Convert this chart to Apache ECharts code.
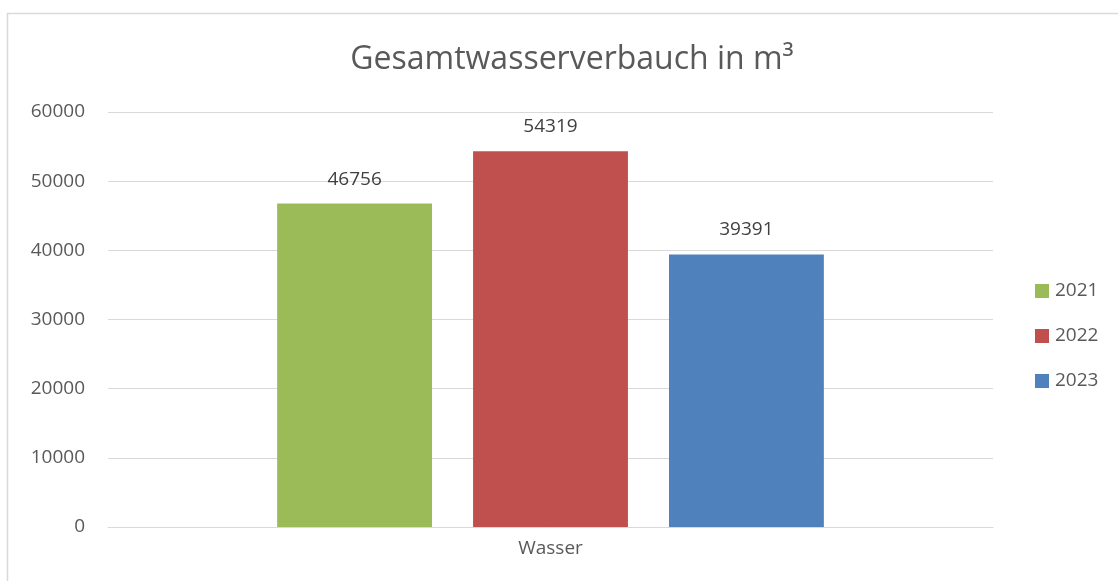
<!DOCTYPE html>
<html><head><meta charset="utf-8">
<script src="https://cdn.jsdelivr.net/npm/echarts@6/dist/echarts.min.js"></script>
<style>html,body{margin:0;padding:0;background:#fff}#c{width:1118px;height:581px}</style>
</head><body><div id="c"></div>
<script>
const categories = ['Wasser'];
const seriesNames = ['2021', '2022', '2023'];
const values2021 = [46756];
const values2022 = [54319];
const values2023 = [39391];
const colors = ['#9BBB59', '#C0504D', '#4F81BD'];
const allValues = [values2021, values2022, values2023];
const FONT = 'Open Sans';
const chart = echarts.init(document.getElementById('c'), null, {renderer: 'canvas'});
chart.setOption({
  animation: false,
  textStyle: {fontFamily: FONT},
  graphic: [{type: 'rect', shape: {x: 7.5, y: 13.5, width: 1200, height: 700}, style: {fill: 'none', stroke: '#d9d9d9', lineWidth: 1.5}, z: -1}],
  title: {text: 'Gesamtwasserverbauch in m³', left: 567, textAlign: 'center', top: 39,
    textStyle: {fontFamily: FONT, fontSize: 32, fontWeight: 'normal', color: '#595959'}},
  legend: {orient: 'vertical', left: 1035, top: 281, padding: 0, itemWidth: 14, itemHeight: 14, itemGap: 25,
    icon: 'rect', data: seriesNames,
    textStyle: {fontFamily: FONT, fontSize: 19, lineHeight: 20, color: '#595959', padding: [0,0,0,1]}},
  grid: {left: 108, right: 125, top: 112, bottom: 54},
  xAxis: {type: 'category', data: categories,
    axisLine: {lineStyle: {color: '#d9d9d9', width: 1}}, axisTick: {show: false},
    axisLabel: {fontFamily: FONT, fontSize: 19, color: '#595959', margin: 12}},
  yAxis: {type: 'value', min: 0, max: 60000, interval: 10000,
    axisLine: {show: false}, axisTick: {show: false},
    splitLine: {lineStyle: {color: '#d9d9d9', width: 1}},
    axisLabel: {fontFamily: FONT, fontSize: 19, color: '#595959', margin: 23, formatter: v => String(v)}},
  series: seriesNames.map((n, i) => ({
    name: n, type: 'bar', data: allValues[i], barWidth: '17.5%', barGap: '26.5%',
    itemStyle: {color: colors[i]},
    label: {show: true, position: 'top', distance: 15, fontFamily: FONT, fontSize: 19, color: '#404040'}
  }))
});
</script></body></html>
